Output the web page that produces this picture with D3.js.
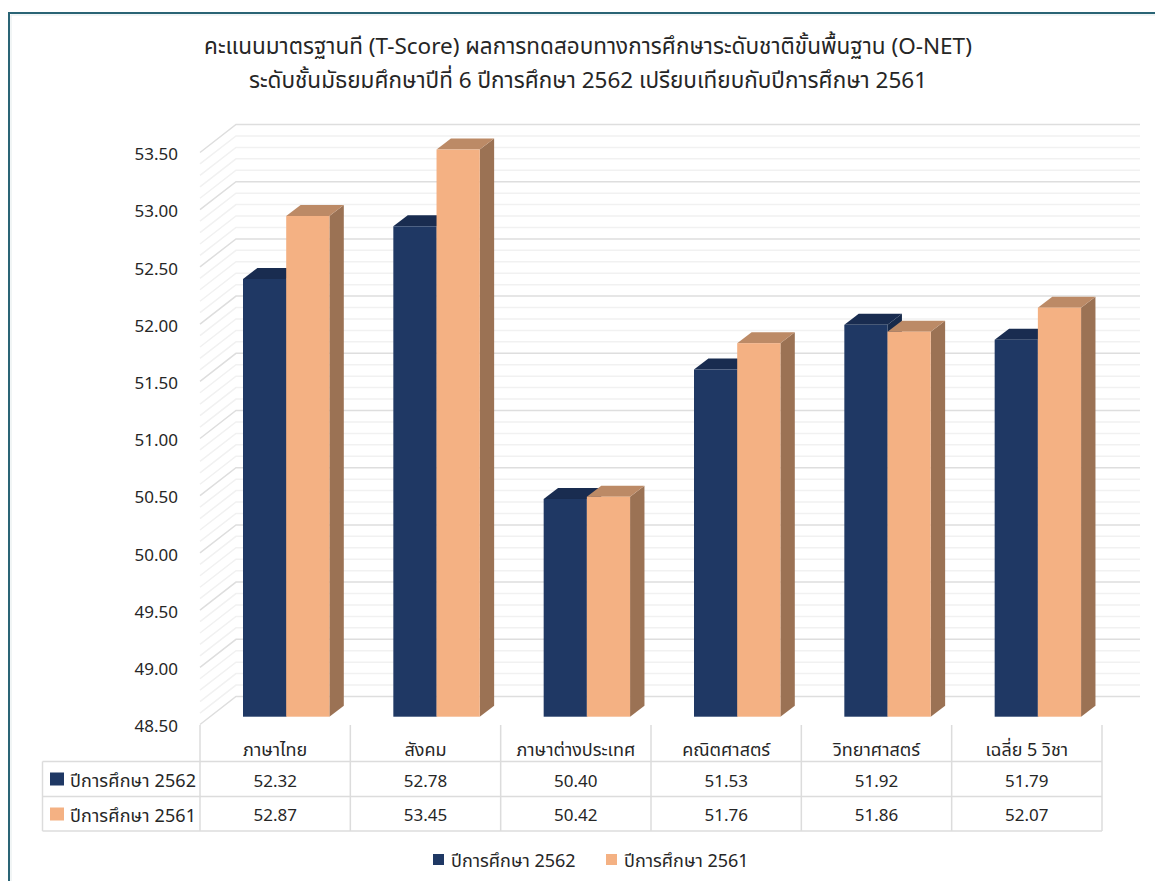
<!DOCTYPE html>
<html><head><meta charset="utf-8">
<script src="https://cdn.jsdelivr.net/npm/d3@7"></script>
<style>html,body{margin:0;padding:0;background:#fff}svg{display:block}text{font-family:"Noto Sans","Noto Sans Thai",Tahoma,sans-serif;fill:#262626}</style>
</head><body><svg id="c" width="1155" height="881"></svg>
<script>
const titleLines=["คะแนนมาตรฐานที (T-Score) ผลการทดสอบทางการศึกษาระดับชาติขั้นพื้นฐาน (O-NET)","ระดับชั้นมัธยมศึกษาปีที่ 6 ปีการศึกษา 2562 เปรียบเทียบกับปีการศึกษา 2561"];
const categories=["ภาษาไทย","สังคม","ภาษาต่างประเทศ","คณิตศาสตร์","วิทยาศาสตร์","เฉลี่ย 5 วิชา"];
const series2562=[52.32,52.78,50.40,51.53,51.92,51.79];
const series2561=[52.87,53.45,50.42,51.76,51.86,52.07];
const seriesNames=["ปีการศึกษา 2562","ปีการศึกษา 2561"];
const yTicks=[48.5,49,49.5,50,50.5,51,51.5,52,52.5,53,53.5];
const minorTicks=d3.range(0,51).map(i=>48.5+i/10);

const svg=d3.select("#c");
const DX=36,DY=-28;
const y=d3.scaleLinear().domain([48.5,53.5]).range([724.5,152.5]);
const x=d3.scaleBand().domain(categories).range([200,1102]);
const yBar=d3.scaleLinear().domain([48.5,53.5]).range([716.7,143.8]);
const inner=d3.scaleBand().domain([0,1]).range([43,129.4]);
const bd=[14.4,-11];
const colors=[{f:"#1f3864",t:"#192c50",s:"#172a4b"},{f:"#f4b183",t:"#bc8a66",s:"#9b7254"}];

// frame
svg.append("path").attr("d","M1155,13.5H9.5V881").attr("fill","none").attr("stroke","#e3ebec").attr("stroke-width",1).attr("transform","translate(1.5,1.5)");
svg.append("path").attr("d","M1155,13H9V881").attr("fill","none").attr("stroke","#2a6475").attr("stroke-width",2);

// title
svg.append("g").selectAll("text").data(titleLines).join("text")
  .attr("x",588).attr("y",(d,i)=>53.5+i*34.5).attr("text-anchor","middle").attr("font-size",22.5).text(d=>d);

// walls
const g=svg.append("g").attr("fill","none");
const isMajor=v=>Math.abs(v*2-Math.round(v*2))<1e-6;
g.selectAll("path").data(minorTicks).join("path")
  .attr("d",v=>`M200,${y(v)}L${200+DX},${y(v)+DY}H1140`)
  .attr("stroke",v=>isMajor(v)?"#dedede":"#f1f1f1").attr("stroke-width",1.5);

// y labels
svg.append("g").selectAll("text").data(yTicks).join("text")
  .attr("x",178).attr("y",v=>y(v)+1.5).attr("dy","0.36em").attr("text-anchor","end").attr("font-size",17)
  .text(d3.format(".2f"));

// bars
[series2562,series2561].forEach((vals,si)=>{
  const c=colors[si];
  const gb=svg.append("g");
  const w=inner.bandwidth();
  categories.forEach((cat,i)=>{
    const x0=x(cat)+inner(si), x1=x0+w, yt=yBar(vals[i]), yb=yBar(48.5);
    gb.append("path").attr("fill",c.s).attr("d",`M${x1},${yt}l${bd[0]},${bd[1]}V${yb+bd[1]}L${x1},${yb}Z`);
    gb.append("path").attr("fill",c.t).attr("d",`M${x0},${yt}l${bd[0]},${bd[1]}H${x1+bd[0]}L${x1},${yt}Z`);
    gb.append("rect").attr("fill",c.f).attr("x",x0).attr("y",yt).attr("width",w).attr("height",yb-yt);
  });
});

// data table
const rowY=[761.5,796.5,831];
const t=svg.append("g").attr("stroke","#dcdcdc").attr("stroke-width",1.5).attr("fill","none");
x.domain().concat([null]).forEach((cat)=>{
  const px=cat===null?x.range()[1]:x(cat);
  t.append("line").attr("x1",px).attr("x2",px).attr("y1",725).attr("y2",rowY[2]);
});
t.append("line").attr("x1",42.5).attr("x2",42.5).attr("y1",rowY[0]).attr("y2",rowY[2]);
rowY.forEach(r=>t.append("line").attr("x1",42.5).attr("x2",1102).attr("y1",r).attr("y2",r));

svg.append("g").selectAll("text").data(categories).join("text")
  .attr("x",d=>x(d)+x.bandwidth()/2).attr("y",755.5).attr("text-anchor","middle").attr("font-size",18).text(d=>d);
[series2562,series2561].forEach((vals,si)=>{
  svg.append("g").selectAll("text").data(vals).join("text")
    .attr("x",(d,i)=>x(categories[i])+x.bandwidth()/2).attr("y",rowY[si]+(rowY[si+1]-rowY[si])/2+1.5).attr("dy","0.36em")
    .attr("text-anchor","middle").attr("font-size",17).text(d3.format(".2f"));
  svg.append("rect").attr("x",50).attr("y",rowY[si]+11).attr("width",14).attr("height",13).attr("fill",colors[si].f);
  svg.append("text").attr("x",70).attr("y",rowY[si]+(rowY[si+1]-rowY[si])/2+1.5).attr("dy","0.36em").attr("font-size",18).attr("textLength",126).attr("lengthAdjust","spacing").text(seriesNames[si]);
});

// legend
[[433,451],[606,624]].forEach((p,si)=>{
  svg.append("rect").attr("x",p[0]).attr("y",854).attr("width",11).attr("height",11).attr("fill",colors[si].f);
  svg.append("text").attr("x",p[1]).attr("y",861).attr("dy","0.36em").attr("font-size",18).text(seriesNames[si]);
});
</script></body></html>
